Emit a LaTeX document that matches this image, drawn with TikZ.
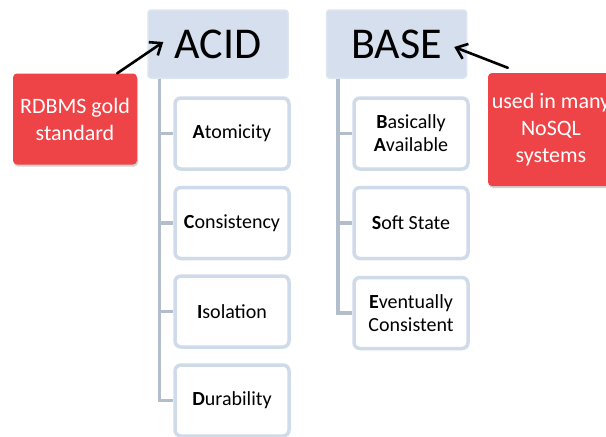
\documentclass[tikz,border=0pt]{standalone}
\usepackage{fontspec}
\setmainfont{Carlito}
\usetikzlibrary{arrows.meta,shadows,calc}
\definecolor{hdrfill}{HTML}{D5DFED}
\definecolor{hdrline}{HTML}{DCE5F1}
\definecolor{boxline}{HTML}{D0DBEA}
\definecolor{barcol}{HTML}{B2BECC}
\definecolor{notered}{HTML}{EF4447}
\tikzset{
  x=1pt, y=-1pt,
  header/.style={draw=hdrline, line width=1.5pt, fill=hdrfill, rounded corners=3pt, minimum width=140pt, minimum height=68pt, inner sep=0pt, font=\fontsize{44}{44}\selectfont},
  item/.style={draw=boxline, line width=3.5pt, fill=white, rounded corners=6pt, minimum width=114pt, minimum height=71pt, inner sep=0pt, align=center, font=\fontsize{20}{23}\selectfont},
  note/.style={fill=notered, rounded corners=4pt, text=white, align=center, inner sep=0pt, font=\fontsize{22}{27}\selectfont, drop shadow={shadow xshift=1pt, shadow yshift=-2pt, opacity=0.35}},
  bar/.style={draw=barcol, line width=3.5pt},
  pointer/.style={draw=black, line width=2.6pt, line cap=round, -{Straight Barb[length=10pt, width=16pt, line width=2.6pt]}}
}
\begin{document}
\begin{tikzpicture}
\useasboundingbox (0,0) rectangle (606,437);
\clip (0,0) rectangle (606,437);
\fill[white] (0,0) rectangle (606,437);
% headers
\node[header] (acid) at (218,44) {ACID};
\node[header] (base) at (396.5,44) {BASE};
% ACID items
\node[item] (a1) at (232,133.5) {\textbf{A}tomicity};
\node[item] (a2) at (232,223) {\textbf{C}onsistency};
\node[item] (a3) at (232,311.5) {\textbf{I}solation};
\node[item] (a4) at (232,400.5) {\textbf{D}urability};
% BASE items
\node[item] (b1) at (411,133.5) {\textbf{B}asically\\\textbf{A}vailable};
\node[item] (b2) at (411,223) {\textbf{S}oft State};
\node[item] (b3) at (411,313) {\textbf{E}ventually\\Consistent};
% tree bars
\coordinate (ta) at ($(acid.south west)+(12,0)$);
\coordinate (tb) at ($(base.south west)+(12,0)$);
\draw[bar] (ta) |- (a4.west);
\draw[bar] (ta) |- (a1.west);
\draw[bar] (ta) |- (a2.west);
\draw[bar] (ta) |- (a3.west);
\draw[bar] (tb) |- (b3.west);
\draw[bar] (tb) |- (b1.west);
\draw[bar] (tb) |- (b2.west);
% notes
\node[note, minimum width=124pt, minimum height=91pt] (n1) at (75,119) {RDBMS gold\\standard};
\node[note, minimum width=126pt, minimum height=113pt] (n2) at (551,129.5) {used in many\\NoSQL\\systems};
% pointers
\coordinate (p1) at ($(n1.north east)+(-20,0)$);
\coordinate (p2) at ($(n2.north west)+(20,-5)$);
\draw[pointer] (p1) -- ($(acid.west)+(16,-2)$);
\draw[pointer] (p2) -- ($(base.east)+(-13,3)$);
\end{tikzpicture}
\end{document}
